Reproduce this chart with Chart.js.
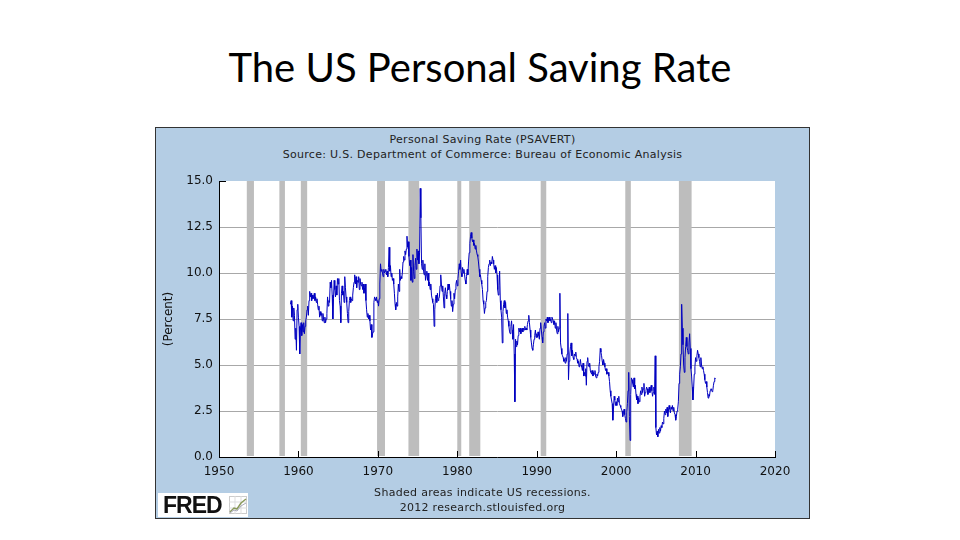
<!DOCTYPE html>
<html>
<head>
<meta charset="utf-8">
<title>The US Personal Saving Rate</title>
<script src="https://cdn.jsdelivr.net/npm/chart.js@4.4.1/dist/chart.umd.min.js"></script>
<style>
  body { margin:0; width:960px; height:540px; background:#fff; position:relative; overflow:hidden; font-family:"DejaVu Sans", sans-serif; }
  #slideTitle { position:absolute; left:0; top:42px; width:960px; text-align:center; font-family:Lato, "Open Sans", sans-serif; font-size:40px; line-height:50px; color:#000; }
  #panel { position:absolute; left:155px; top:127px; width:655px; height:392px; background:#B4CDE4; border:1px solid #333; box-sizing:border-box; }
  .txt { position:absolute; left:155px; width:655px; text-align:center; font-size:11px; line-height:13px; color:#222; letter-spacing:0.3px; }
  #chart { position:absolute; left:155px; top:127px; width:655px; height:392px; }
  #logo { position:absolute; left:158px; top:493px; width:90px; height:24px; background:#fff; }
  #logo span { position:absolute; left:5px; top:0px; font-family:"Liberation Sans", Arial, sans-serif; font-weight:bold; font-size:23px; line-height:24px; color:#111; letter-spacing:-1px; }
  #logo svg { position:absolute; left:71px; top:3px; }
</style>
</head>
<body>
<div id="slideTitle">The US Personal Saving Rate</div>
<div id="panel"></div>
<div class="txt" style="top:133px">Personal Saving Rate (PSAVERT)</div>
<div class="txt" style="top:148px">Source: U.S. Department of Commerce: Bureau of Economic Analysis</div>
<canvas id="chart" width="655" height="392"></canvas>
<div class="txt" style="top:486px">Shaded areas indicate US recessions.</div>
<div class="txt" style="top:501px">2012 research.stlouisfed.org</div>
<div id="logo"><span>FRED</span>
  <svg width="18" height="18" viewBox="0 0 18 18">
    <rect x="0.5" y="0.5" width="17" height="17" fill="#fff" stroke="#ccc"/>
    <path d="M0 6H18M0 12H18M6 0V18M12 0V18" stroke="#ddd" stroke-width="1"/>
    <path d="M1 16L5 12L8 13L12 7L17 3" stroke="#8a9a5b" stroke-width="1.5" fill="none"/>
    <path d="M1 17L5 14L8 15L12 10L17 7" stroke="#aab" stroke-width="1" fill="none"/>
  </svg>
</div>
<script>
// monthly personal saving rate, percent, starting Jan 1959
const firstYear = 1959;
const rate1959 = [8.3, 8.5, 7.6, 8.2, 7.4, 8.1, 7.7, 6.4, 7.0, 5.8, 8.0, 8.3];
const rate1960s = [
  7.6, 7.1, 5.6, 6.9, 7.3, 6.6, 7.2, 6.8, 7.3, 6.7, 7.1, 7.4,
  7.6, 8.0, 8.2, 7.7, 8.5, 9.0, 8.7, 8.9, 8.5, 8.8, 8.6, 8.7,
  8.9, 8.5, 8.7, 8.4, 8.6, 8.3, 8.0, 8.2, 7.6, 7.9, 7.7, 7.8,
  7.4, 7.8, 7.5, 7.3, 7.6, 7.3, 7.5, 7.8, 8.7, 8.2, 8.5, 8.4,
  9.5, 9.2, 9.6, 8.8, 7.5, 8.6, 9.6, 9.1, 8.7, 9.3, 8.8, 9.7,
  9.4, 9.7, 8.5, 8.2, 7.3, 8.9, 9.3, 8.8, 9.0, 8.4, 9.8, 9.2,
  8.7, 8.4, 7.8, 7.3, 7.9, 8.5, 8.7, 8.4, 8.6, 8.5, 8.8, 9.2,
  9.5, 9.9, 9.4, 9.8, 9.2, 9.6, 9.5, 9.8, 9.1, 9.7, 9.4, 9.3,
  9.5, 9.1, 9.4, 8.9, 9.2, 9.4, 8.5, 8.0, 7.6, 7.8, 7.5, 7.7,
  7.4, 6.9, 7.2, 6.5, 6.7, 6.8, 8.4, 8.7, 8.6, 8.5, 8.7, 8.4
];
const rate1970s = [
  8.5, 8.2, 8.6, 9.4, 10.5, 10.1, 10.2, 10.0, 9.8, 10.2, 10.0, 10.1,
  10.2, 9.9, 10.1, 9.8, 10.3, 11.4, 10.1, 10.4, 9.8, 10.0, 9.6, 9.7,
  9.4, 8.9, 8.3, 8.0, 8.4, 8.2, 8.7, 9.4, 9.0, 10.2, 9.6, 9.8,
  9.7, 10.0, 10.6, 10.9, 10.7, 11.2, 11.0, 11.3, 12.0, 11.4, 11.7, 10.9,
  10.4, 10.7, 9.6, 10.3, 9.5, 11.0, 10.1, 9.7, 10.4, 10.8, 10.2, 11.3,
  10.7, 11.2, 10.5, 11.1, 14.6, 13.0, 10.5, 10.2, 10.7, 10.1, 9.9, 10.5,
  9.6, 9.9, 10.1, 9.6, 10.0, 9.3, 9.5, 9.1, 9.4, 8.8, 8.6, 8.4,
  8.3, 7.1, 8.0, 8.6, 8.8, 8.4, 8.9, 8.5, 8.6, 8.7, 9.3, 9.9,
  9.4, 9.0, 9.3, 8.7, 8.1, 8.9, 9.2, 8.8, 8.6, 9.0, 9.4, 9.1,
  9.4, 9.0, 8.6, 8.2, 8.5, 7.9, 8.3, 8.9, 8.6, 9.1, 9.4, 9.6
];
const rate1980s = [
  9.3, 9.7, 10.1, 10.5, 10.2, 10.7, 10.0, 9.8, 10.3, 10.0, 10.2, 9.9,
  9.6, 9.4, 9.8, 10.2, 9.9, 10.6, 11.1, 11.6, 12.0, 12.2, 11.9, 11.7,
  11.8, 11.5, 11.6, 11.3, 11.5, 11.2, 11.0, 10.9, 10.6, 10.2, 9.8, 9.9,
  9.6, 9.4, 9.1, 8.5, 8.3, 7.8, 8.1, 8.4, 8.5, 9.0, 9.8, 10.3,
  10.5, 10.7, 10.4, 10.6, 10.5, 10.9, 10.7, 10.5, 10.2, 10.4, 10.0, 10.3,
  9.9, 9.1, 8.8, 9.3, 10.1, 8.5, 8.0, 7.6, 6.2, 7.9, 8.3, 8.5,
  8.1, 8.4, 7.8, 8.0, 7.6, 7.4, 7.1, 6.8, 6.7, 7.1, 7.4, 6.9,
  6.4, 7.2, 5.6, 3.0, 6.4, 6.0, 6.3, 6.1, 6.6, 7.0, 6.8, 7.0,
  6.7, 6.9, 7.0, 6.8, 7.0, 6.9, 7.1, 6.9, 7.0, 6.9, 7.2, 7.4,
  7.7, 7.3, 6.9, 6.5, 6.2, 5.9, 5.8, 6.1, 6.4, 6.6, 6.9, 6.5
];
const rate1990s = [
  6.7, 6.5, 6.8, 6.6, 6.4, 7.0, 7.3, 6.9, 6.5, 6.2, 6.8, 7.1,
  7.3, 7.0, 7.5, 7.4, 7.6, 7.3, 7.5, 7.6, 7.4, 7.5, 7.3, 7.6,
  7.5, 7.4, 7.2, 7.4, 7.0, 7.3, 6.9, 6.7, 7.1, 6.8, 7.0, 8.9,
  6.2, 5.9, 5.6, 5.5, 5.4, 5.2, 5.3, 5.1, 5.4, 5.2, 5.6, 7.8,
  4.2, 5.2, 5.6, 6.0, 6.2, 5.5, 5.8, 5.4, 5.3, 5.6, 5.5, 5.7,
  5.4, 5.3, 5.1, 5.2, 4.9, 5.0, 5.3, 5.0, 4.9, 4.7, 5.1, 4.4,
  4.6, 4.4, 4.8, 3.9, 5.2, 5.4, 5.0, 4.9, 5.1, 4.7, 4.6, 4.5,
  4.7, 4.4, 4.6, 4.5, 4.7, 4.4, 4.3, 4.5, 4.4, 4.6, 4.9, 5.2,
  5.9, 5.7, 5.5, 5.2, 5.0, 5.3, 5.1, 4.9, 4.7, 4.8, 4.5, 4.6,
  4.6, 4.4, 4.1, 3.6, 3.3, 3.1, 2.9, 2.0, 2.6, 3.3, 3.1, 2.8
];
const rate2000s = [
  3.0, 2.8, 3.2, 3.0, 3.3, 2.9, 2.8, 2.7, 2.6, 2.5, 2.2, 2.4,
  2.6, 2.3, 2.1, 1.9, 2.4, 2.9, 3.6, 4.6, 2.2, 0.9, 3.4, 4.3,
  4.2, 4.0, 3.8, 4.3, 3.7, 3.9, 3.4, 3.1, 3.3, 2.9, 3.2, 3.0,
  3.3, 3.6, 3.4, 3.8, 3.5, 3.7, 4.0, 3.3, 3.5, 3.6, 3.8, 3.7,
  3.4, 3.6, 3.8, 3.5, 3.7, 3.9, 3.6, 3.3, 3.5, 3.8, 3.4, 5.5,
  1.6, 1.2, 1.4, 1.1, 1.5, 1.3, 1.6, 1.4, 1.7, 1.6, 1.9, 1.8,
  2.1, 2.5, 2.3, 2.6, 2.4, 2.7, 2.2, 2.5, 2.8, 2.6, 2.4, 2.7,
  2.6, 2.8, 2.5, 2.7, 2.4, 2.3, 2.0, 2.2, 2.5, 2.6, 3.0, 4.0,
  4.5, 4.9, 5.6, 8.3, 7.0, 6.1, 5.0, 4.6, 5.4, 6.0, 6.5, 6.0,
  5.8, 5.6, 6.2, 6.7, 5.9, 4.8, 4.4, 3.8, 3.1, 3.7, 4.5, 4.9
];
const rate2010s = [
  5.4, 5.2, 5.5, 5.8, 5.6, 5.4, 5.2, 4.9, 5.4, 5.0, 4.8, 4.9,
  4.7, 4.5, 4.2, 4.0, 4.1, 3.8, 3.5, 3.2, 3.4, 3.3, 3.6, 3.7,
  3.7, 3.55, 3.6, 3.9, 4.1, 4.3, 4.25
];

// NBER recessions (decimal years)
const recStart = [1953.5, 1957.6, 1960.3, 1969.9, 1973.85, 1980.0, 1981.5, 1990.5, 2001.15, 2007.9];
const recEnd   = [1954.4, 1958.3, 1961.1, 1970.9, 1975.2, 1980.5, 1982.9, 1991.2, 2001.85, 2009.5];

const xTicks = [1950, 1960, 1970, 1980, 1990, 2000, 2010, 2020];
const yTicks = [0, 2.5, 5, 7.5, 10, 12.5, 15];

const saving = [].concat(rate1959, rate1960s, rate1970s, rate1980s, rate1990s, rate2000s, rate2010s);
const points = saving.map((v, i) => ({ x: firstYear + i / 12, y: v }));

const gridGray = '#A8A8A8';

const plotBg = {
  id: 'plotBg',
  beforeDraw(chart) {
    const { ctx, chartArea: a } = chart;
    ctx.save();
    ctx.fillStyle = '#fff';
    ctx.fillRect(a.left, a.top, a.right - a.left, a.bottom - a.top);
    ctx.restore();
  }
};

const recessions = {
  id: 'recessions',
  beforeDatasetsDraw(chart) {
    const { ctx, chartArea: a, scales: { x } } = chart;
    ctx.save();
    ctx.fillStyle = '#BDBDBD';
    recStart.forEach((s, i) => {
      const x0 = x.getPixelForValue(s);
      const x1 = x.getPixelForValue(recEnd[i]);
      ctx.fillRect(x0, a.top, x1 - x0, a.bottom - a.top - 1);
    });
    ctx.restore();
  }
};

// FRED draws its tick marks on the inside of the axes
const innerTicks = {
  id: 'innerTicks',
  afterDatasetsDraw(chart) {
    const { ctx, chartArea: a, scales: { x, y } } = chart;
    ctx.save();
    ctx.lineWidth = 1;
    ctx.strokeStyle = '#000';
    xTicks.forEach(v => {
      const px = Math.round(x.getPixelForValue(v)) + 0.5;
      ctx.beginPath();
      ctx.moveTo(px, a.bottom);
      ctx.lineTo(px, a.bottom - 6);
      ctx.stroke();
    });
    const top = Math.round(y.getPixelForValue(yTicks[yTicks.length - 1])) + 0.5;
    ctx.beginPath();
    ctx.moveTo(a.left, top);
    ctx.lineTo(a.left + 7, top);
    ctx.stroke();
    ctx.restore();
  }
};

new Chart(document.getElementById('chart'), {
  type: 'line',
  data: {
    datasets: [{
      data: points,
      borderColor: '#0000C0',
      borderWidth: 1,
      pointRadius: 0,
      tension: 0,
      fill: false
    }]
  },
  options: {
    responsive: false,
    animation: false,
    layout: { padding: { left: 0, right: 35, top: 54, bottom: 0 } },
    plugins: { legend: { display: false }, tooltip: { enabled: false } },
    scales: {
      x: {
        type: 'linear',
        min: 1950,
        max: 2020,
        afterBuildTicks: s => { s.ticks = xTicks.map(v => ({ value: v })); },
        afterFit: s => { s.height = 62; },
        grid: { display: false, drawTicks: false },
        border: { display: true, color: '#000', width: 1 },
        ticks: {
          padding: 8,
          maxRotation: 0,
          autoSkip: false,
          color: '#111',
          font: { family: 'DejaVu Sans', size: 12 },
          callback: v => String(v)
        }
      },
      y: {
        min: 0,
        max: 15,
        afterBuildTicks: s => { s.ticks = yTicks.map(v => ({ value: v })); },
        afterFit: s => { s.width = 64; },
        grid: {
          drawTicks: false,
          color: c => (c.tick.value === 0 || c.tick.value === 15) ? 'rgba(0,0,0,0)' : gridGray,
          lineWidth: 1
        },
        border: { display: true, color: '#000', width: 1 },
        ticks: {
          padding: 6,
          color: '#111',
          font: { family: 'DejaVu Sans', size: 12 },
          callback: v => v.toFixed(1)
        },
        title: {
          display: true,
          text: '(Percent)',
          color: '#111',
          padding: { top: 7, bottom: 0 },
          font: { family: 'DejaVu Sans', size: 12 }
        }
      }
    }
  },
  plugins: [plotBg, recessions, innerTicks]
});
</script>
</body>
</html>
